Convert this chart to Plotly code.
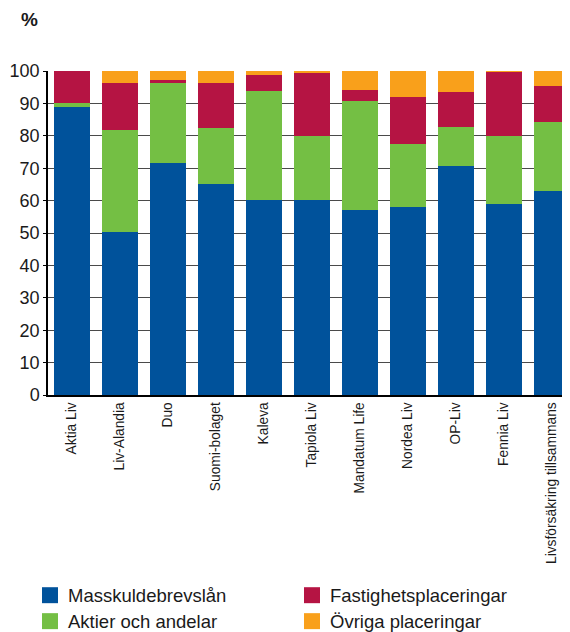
import plotly.graph_objects as go

categories = ["Aktia Liv", "Liv-Alandia", "Duo", "Suomi-bolaget", "Kaleva", "Tapiola Liv",
              "Mandatum Life", "Nordea Liv", "OP-Liv", "Fennia Liv", "Livsförsäkring tillsammans"]
masskuldebrevslan = [89.0, 50.4, 71.6, 65.2, 60.2, 60.2, 57.2, 58.1, 70.7, 59.0, 63.0]
aktier = [1.0, 31.4, 24.7, 17.2, 33.6, 19.8, 33.6, 19.4, 12.0, 21.0, 21.3]
fastighet = [10.0, 14.5, 0.9, 13.9, 5.0, 19.5, 3.3, 14.5, 10.8, 19.8, 11.1]
ovriga = [0.0, 3.7, 2.8, 3.7, 1.2, 0.5, 5.9, 8.0, 6.5, 0.2, 4.6]
series_names = ["Masskuldebrevslån", "Aktier och andelar", "Fastighetsplaceringar", "Övriga placeringar"]
colors = ["#00529B", "#74BF44", "#B51443", "#F9A01B"]
y_ticks = [0, 10, 20, 30, 40, 50, 60, 70, 80, 90, 100]

fig = go.Figure()
for name, vals, col in zip(series_names, [masskuldebrevslan, aktier, fastighet, ovriga], colors):
    fig.add_trace(go.Bar(x=categories, y=vals, name=name, marker=dict(color=col, line=dict(width=0)),
                         width=0.73, showlegend=False))

# page body has an 8px margin; figure coordinates are page coordinates minus OFF
OFF = 8
W, H = 570 - OFF, 632 - OFF
ml, mr, mt, mb = 48 - OFF, 0, 71 - OFF, 632 - 395.5
fig.update_layout(
    barmode="stack", width=W, height=H,
    margin=dict(l=ml, r=mr, t=mt, b=mb, autoexpand=False),
    paper_bgcolor="white", plot_bgcolor="white",
    font=dict(family="Arial, Liberation Sans, sans-serif", color="#1a1a1a"),
)
fig.update_xaxes(range=[-0.5, 10.375], tickangle=-90,
                 tickfont=dict(size=13.8, color="#1a1a1a"),
                 showline=True, linecolor="black", linewidth=1.5, ticks="", showgrid=False)
fig.update_yaxes(range=[0, 100], tickvals=y_ticks, tickfont=dict(size=18, color="#1a1a1a"),
                 showline=True, linecolor="black", linewidth=1.5, ticks="outside", ticklen=3,
                 tickcolor="black", showgrid=True, gridcolor="#4a4a4a", gridwidth=1.3,
                 zeroline=False)

ph = H - mt - mb
pw = W - ml - mr


def px_x(p):
    return (p - OFF - ml) / pw


def px_y(p):
    return ((H - mb) - (p - OFF)) / ph


fig.add_annotation(text="<b>%</b>", xref="paper", yref="paper", x=px_x(19), y=px_y(19),
                   xanchor="left", yanchor="middle", showarrow=False, font=dict(size=19, color="#1a1a1a"))

# manual legend (page pixel positions)
legend_items = [(0, 42, 596), (1, 42, 622), (2, 304, 596), (3, 304, 622)]
for idx, lx, ly in legend_items:
    fig.add_shape(type="rect", xref="paper", yref="paper", x0=px_x(lx), x1=px_x(lx + 16),
                  y0=px_y(ly + 8), y1=px_y(ly - 8), fillcolor=colors[idx], line=dict(width=0))
    fig.add_annotation(text=series_names[idx], xref="paper", yref="paper",
                       x=px_x(lx + 24), y=px_y(ly), xanchor="left", yanchor="middle", showarrow=False,
                       font=dict(size=18.5, color="#1a1a1a"))

fig.write_html("out.html")
